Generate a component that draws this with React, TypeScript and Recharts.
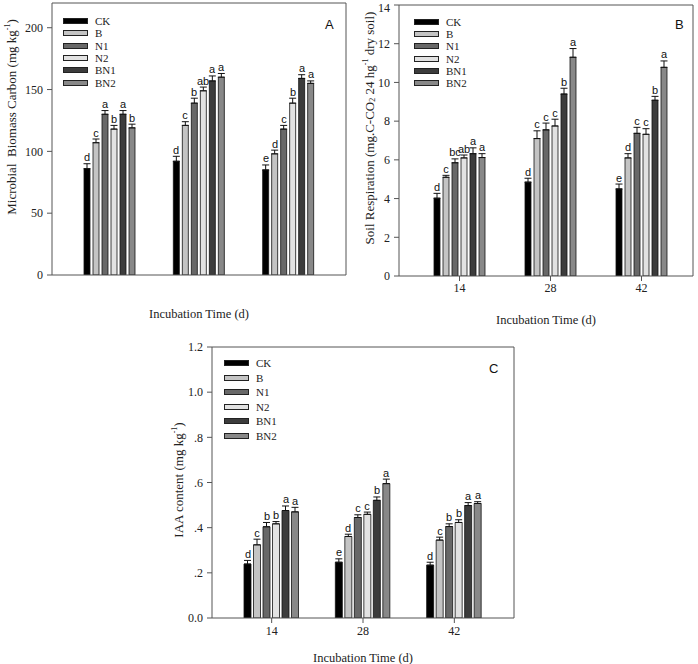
import React from 'react';
import { BarChart, Bar, XAxis, YAxis, ErrorBar, LabelList, Legend } from 'recharts';

const categories = ['14', '28', '42'];
const seriesNames = ['CK', 'B', 'N1', 'N2', 'BN1', 'BN2'];
const seriesColors = ['#000000', '#c4c4c4', '#686868', '#e2e2e2', '#3c3c3c', '#888888'];

// Panel A: microbial biomass carbon (rows = series, cols = 14, 28, 42 d)
const mbcMeans = [
  [86, 92, 85],
  [107, 121, 98],
  [130, 139, 118],
  [118, 149, 139],
  [130, 157, 159],
  [119, 160, 155],
];
const mbcErrors = [
  [4, 4, 4],
  [3, 3, 3],
  [3, 4, 3],
  [3, 3, 4],
  [3, 4, 3],
  [3, 3, 2],
];
const mbcLetters = [
  ['d', 'd', 'e'],
  ['c', 'c', 'd'],
  ['a', 'b', 'c'],
  ['b', 'ab', 'b'],
  ['a', 'a', 'a'],
  ['b', 'a', 'a'],
];
const mbcTicks = [0, 50, 100, 150, 200];

// Panel B: soil respiration
const resMeans = [
  [4.02, 4.85, 4.5],
  [5.1, 7.1, 6.1],
  [5.85, 7.55, 7.37],
  [6.1, 7.75, 7.32],
  [6.32, 9.4, 9.08],
  [6.12, 11.3, 10.78],
];
const resErrors = [
  [0.25, 0.2, 0.25],
  [0.1, 0.4, 0.22],
  [0.2, 0.35, 0.31],
  [0.15, 0.35, 0.29],
  [0.3, 0.3, 0.2],
  [0.2, 0.45, 0.33],
];
const resLetters = [
  ['d', 'd', 'e'],
  ['c', 'c', 'd'],
  ['bc', 'c', 'c'],
  ['ab', 'c', 'c'],
  ['a', 'b', 'b'],
  ['a', 'a', 'a'],
];
const resTicks = [0, 2, 4, 6, 8, 10, 12, 14];

// Panel C: IAA content
const iaaMeans = [
  [0.239, 0.247, 0.234],
  [0.324, 0.361, 0.345],
  [0.404, 0.445, 0.405],
  [0.417, 0.459, 0.423],
  [0.476, 0.521, 0.498],
  [0.47, 0.595, 0.507],
];
const iaaErrors = [
  [0.016, 0.015, 0.013],
  [0.025, 0.01, 0.013],
  [0.019, 0.012, 0.012],
  [0.01, 0.01, 0.012],
  [0.02, 0.015, 0.013],
  [0.02, 0.02, 0.008],
];
const iaaLetters = [
  ['d', 'e', 'd'],
  ['c', 'd', 'c'],
  ['b', 'c', 'b'],
  ['b', 'c', 'b'],
  ['a', 'b', 'a'],
  ['a', 'a', 'a'],
];
const iaaTicks = [0, 0.2, 0.4, 0.6, 0.8, 1.0, 1.2];

const SERIF = '"Liberation Serif", "Times New Roman", serif';
const SANS = '"Liberation Sans", Arial, sans-serif';
const AXIS = '#555';

function buildData(means: number[][], errors: number[][], letters: string[][]) {
  return categories.map((cat, i) => {
    const row: any = { cat };
    seriesNames.forEach((s, j) => {
      row[s] = means[j][i];
      row[s + '_e'] = [0, errors[j][i]];
      row[s + '_l'] = letters[j][i];
    });
    return row;
  });
}

function makeLetter(means: number[], errors: number[]) {
  return (props: any) => {
    const vb = props.viewBox || props;
    const x = Number(vb.x);
    const y = Number(vb.y);
    const w = Number(vb.width);
    const h = Math.abs(Number(vb.height));
    const idx = props.index ?? 0;
    const v = means[idx];
    const pxPer = v ? h / v : 0;
    const ey = y - errors[idx] * pxPer - 2.5;
    return (
      <text x={Math.round(x + w / 2)} y={Math.round(ey)} textAnchor="middle" fontSize={11} fontFamily={SANS} fill="#111" style={{ fill: '#111' }}>
        {props.value}
      </text>
    );
  };
}

type PanelProps = {
  left: number; top: number; width: number; height: number;
  margin: any; yWidth: number; xHeight: number;
  domain: [number, number]; ticks: number[]; tickFmt?: (v: number) => string;
  means: number[][]; errors: number[][]; letters: string[][];
  showXTicks: boolean; xPad: any; barSize: number; barGap: number;
  yTitle: React.ReactNode; titlePos: [number, number]; xTitleDy: number;
  legendPos: [number, number]; legendRow: number; xTickMargin: number;
};

function Panel(p: PanelProps) {
  const data = buildData(p.means, p.errors, p.letters);
  return (
    <div style={{ position: 'absolute', left: p.left, top: p.top }}>
      <BarChart width={p.width} height={p.height} data={data} margin={p.margin} barSize={p.barSize} barGap={p.barGap}>
        <XAxis
          dataKey="cat"
          height={p.xHeight}
          padding={p.xPad}
          stroke={AXIS}
          tickSize={5}
          tickMargin={p.xTickMargin}
          tick={p.showXTicks ? { fill: '#222', fontSize: 12, fontFamily: SERIF } : false}
          axisLine={{ stroke: AXIS }}
          tickLine={{ stroke: AXIS }}
          label={{
            content: (lp: any) => {
              const vb = lp.viewBox;
              return (
                <text x={vb.x + vb.width / 2} y={vb.y + p.xTitleDy} textAnchor="middle" dominantBaseline="central" fontSize={12.5} fontFamily={SERIF} fill="#222">
                  Incubation Time (d)
                </text>
              );
            },
          }}
        />
        <XAxis xAxisId="top" dataKey="cat" orientation="top" height={1} tick={false} tickLine={false} axisLine={{ stroke: AXIS }} stroke={AXIS} />
        <YAxis
          width={p.yWidth}
          domain={p.domain}
          ticks={p.ticks}
          allowDataOverflow
          stroke={AXIS}
          tickSize={5}
          tickMargin={4}
          tickFormatter={p.tickFmt}
          tick={{ fill: '#222', fontSize: 12, fontFamily: SERIF }}
          axisLine={{ stroke: AXIS }}
          tickLine={{ stroke: AXIS }}
          label={{
            content: () => {
              const [cx, cy] = p.titlePos;
              return (
                <text x={cx} y={cy} transform={`rotate(-90, ${cx}, ${cy})`} textAnchor="middle" dominantBaseline="central" fontSize={13} fontFamily={SERIF} fill="#222" style={{ whiteSpace: 'pre' }}>
                  {p.yTitle}
                </text>
              );
            },
          }}
        />
        <YAxis yAxisId="right" orientation="right" width={1} domain={p.domain} tick={false} tickLine={false} axisLine={{ stroke: AXIS }} stroke={AXIS} />
        <Legend
          layout="vertical"
          align="center"
          verticalAlign="middle"
          wrapperStyle={{ left: p.legendPos[0], top: p.legendPos[1], width: 'auto' }}
          content={() => (
            <div style={{ fontFamily: SERIF, fontSize: 11, color: '#222' }}>
              {seriesNames.map((n, i) => (
                <div key={n} style={{ height: p.legendRow, display: 'flex', alignItems: 'center' }}>
                  <span style={{ display: 'inline-block', width: 25, height: 6, background: seriesColors[i], border: '1px solid #222', boxSizing: 'border-box', marginRight: 7 }} />
                  <span>{n}</span>
                </div>
              ))}
            </div>
          )}
        />
        {seriesNames.map((s, j) => (
          <Bar key={s} dataKey={s} fill={seriesColors[j]} stroke="#111" strokeWidth={0.8} isAnimationActive={false}>
            <ErrorBar dataKey={s + '_e'} width={3.5} strokeWidth={1} stroke="#111" direction="y" />
            <LabelList dataKey={s + '_l'} content={makeLetter(p.means[j], p.errors[j])} />
          </Bar>
        ))}
      </BarChart>
    </div>
  );
}

const iaaFmt = (v: number) => (v === 0 ? '0.0' : v >= 1 ? v.toFixed(1) : v.toFixed(1).replace(/^0/, ''));

export default function App() {
  return (
    <div style={{ position: 'absolute', left: 0, top: 0, width: 698, height: 664, background: '#fff', overflow: 'hidden' }}>
      <Panel
        left={0} top={0} width={350} height={330}
        margin={{ top: 2, right: 3, bottom: 10, left: 0 }}
        yWidth={52} xHeight={45}
        domain={[0, 220]} ticks={mbcTicks}
        means={mbcMeans} errors={mbcErrors} letters={mbcLetters}
        showXTicks={false} xPad={{ left: 13, right: 13 }} barSize={6} barGap={3}
        yTitle={<>Microbial  Biomass Carbon (mg kg<tspan dy={-4} fontSize={8}>-1</tspan><tspan dy={4}>)</tspan></>}
        titlePos={[11, 117]} xTitleDy={39}
        legendPos={[63, 15]} legendRow={12.3} xTickMargin={2}
      />
      <Panel
        left={340} top={0} width={358} height={330}
        margin={{ top: 4, right: 4, bottom: 9, left: 0 }}
        yWidth={59} xHeight={45}
        domain={[0, 14]} ticks={resTicks}
        means={resMeans} errors={resErrors} letters={resLetters}
        showXTicks={true} xPad={{ left: 15, right: 6 }} barSize={6} barGap={3}
        yTitle={<>Soil Respiration (mg.C-CO<tspan dy={3} fontSize={8}>2</tspan><tspan dy={-3}> 24 hg</tspan><tspan dy={-4} fontSize={8}>-1</tspan><tspan dy={4}> dry soil)</tspan></>}
        titlePos={[29, 128]} xTitleDy={44}
        legendPos={[74, 16]} legendRow={12.2} xTickMargin={2}
      />
      <Panel
        left={160} top={330} width={360} height={334}
        margin={{ top: 16, right: 5, bottom: 0, left: 0 }}
        yWidth={52} xHeight={46}
        domain={[0, 1.2]} ticks={iaaTicks} tickFmt={iaaFmt}
        means={iaaMeans} errors={iaaErrors} letters={iaaLetters}
        showXTicks={true} xPad={{ left: 14, right: 14 }} barSize={7} barGap={2.5}
        yTitle={<>IAA content (mg kg<tspan dy={-4} fontSize={8}>-1</tspan><tspan dy={4}>)</tspan></>}
        titlePos={[18, 150]} xTitleDy={40}
        legendPos={[64, 26]} legendRow={14.5} xTickMargin={3}
      />
      <div style={{ position: 'absolute', left: 325, top: 17, fontFamily: SANS, fontSize: 13, color: '#111' }}>A</div>
      <div style={{ position: 'absolute', left: 675, top: 17, fontFamily: SANS, fontSize: 13, color: '#111' }}>B</div>
      <div style={{ position: 'absolute', left: 489, top: 361, fontFamily: SANS, fontSize: 13, color: '#111' }}>C</div>
    </div>
  );
}
